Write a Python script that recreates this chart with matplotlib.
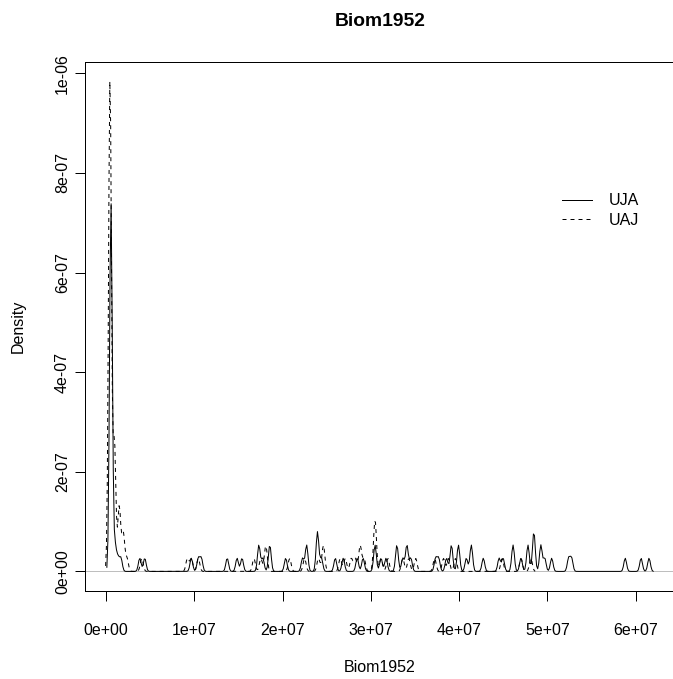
import numpy as np
import matplotlib
matplotlib.use("Agg")
import matplotlib.pyplot as plt
from matplotlib.ticker import FuncFormatter, MultipleLocator

# Biom1952 observations (in millions) and how many share each value
uja_vals = [0.56, 1.01, 1.35, 1.69, 3.82, 4.39, 9.67, 10.46, 10.80, 13.73,
            14.85, 15.41, 17.32, 17.77, 18.56, 20.36, 22.27, 22.73, 23.96, 24.41,
            25.98, 26.88, 28.46, 29.13, 30.48, 31.16, 31.73, 32.96, 33.63, 34.09,
            34.54, 37.35, 37.69, 38.58, 39.14, 39.93, 40.83, 41.39, 42.75, 44.54,
            44.99, 46.12, 47.02, 47.81, 48.48, 49.27, 49.71, 50.50, 52.42, 52.75,
            58.83, 60.63, 61.53]
uja_counts = [28, 2, 1, 1, 1, 1, 1, 1, 1, 1,
              1, 1, 2, 1, 2, 1, 1, 2, 3, 1,
              1, 1, 1, 1, 2, 1, 1, 2, 1, 2,
              1, 1, 1, 1, 2, 2, 1, 2, 1, 1,
              1, 2, 1, 2, 3, 2, 1, 1, 1, 1,
              1, 1, 1]

uaj_vals = [0.45, 0.95, 1.50, 1.95, 2.37, 4.05, 9.22, 9.67, 10.46, 16.76,
            17.54, 18.11, 20.81, 22.50, 24.07, 24.63, 26.54, 27.11, 27.79, 28.24,
            28.80, 29.24, 30.48, 31.16, 31.94, 33.63, 34.31, 35.09, 37.24, 38.24,
            38.81, 39.60, 44.88, 47.02, 48.14]
uaj_counts = [38, 10, 5, 3, 1, 1, 1, 1, 1, 1,
              1, 2, 1, 1, 1, 2, 1, 1, 1, 1,
              2, 1, 4, 1, 1, 1, 1, 1, 1, 1,
              1, 1, 1, 1, 1]

uja_bw = 1.55e5
uaj_bw = 1.65e5


def density(vals, counts, bw, n=512):
    x = np.asarray(vals) * 1e6
    w = np.asarray(counts, dtype=float)
    grid = np.linspace(x.min() - 3 * bw, x.max() + 3 * bw, n)
    z = (grid[:, None] - x[None, :]) / bw
    d = (np.exp(-0.5 * z ** 2) * w).sum(axis=1) / (w.sum() * bw * np.sqrt(2 * np.pi))
    return grid, d


gx1, d1 = density(uja_vals, uja_counts, uja_bw)
gx2, d2 = density(uaj_vals, uaj_counts, uaj_bw)

plt.rcParams['font.family'] = ['Liberation Sans', 'DejaVu Sans']

fig = plt.figure(figsize=(673 / 96, 679 / 96), dpi=96)
ax = fig.add_axes([85 / 673, 1 - 591 / 679, 590 / 673, 529 / 679])

ax.axhline(0, color='#BEBEBE', lw=0.75, zorder=1)
ax.plot(gx1, d1, color='black', lw=0.75, label='UJA', zorder=3)
ax.plot(gx2, d2, color='black', lw=0.75, ls=(0, (4, 4)), label='UAJ', zorder=2)

xlo, xhi = gx1.min(), gx1.max()
ax.set_xlim(xlo - 0.04 * (xhi - xlo), xhi + 0.04 * (xhi - xlo))
ymax = max(d1.max(), d2.max())
ax.set_ylim(-0.04 * ymax, 1.04 * ymax)

sci = FuncFormatter(lambda v, p: f"{v:.0e}")
ax.xaxis.set_major_locator(MultipleLocator(1e7))
ax.yaxis.set_major_locator(MultipleLocator(2e-7))
ax.xaxis.set_major_formatter(sci)
ax.yaxis.set_major_formatter(sci)
ax.tick_params(direction='out', length=7.2, width=0.75, labelsize=12, colors='black')
ax.tick_params(axis='x', pad=17)
ax.tick_params(axis='y', pad=4)
for lbl in ax.get_yticklabels():
    lbl.set_rotation(90)
    lbl.set_va('center')
for s in ax.spines.values():
    s.set_linewidth(0.75)

ax.set_xlabel('Biom1952', fontsize=12)
ax.set_ylabel('Density', fontsize=12)
ax.xaxis.set_label_coords(0.5, (591 - 668) / 529)
ax.xaxis.label.set_va('center')
ax.yaxis.set_label_coords((18 - 85) / 590, 0.5)
ax.yaxis.label.set_va('center')
ax.text((380 - 85) / 590, (591 - 22) / 529, 'Biom1952', transform=ax.transAxes,
        ha='center', va='center', fontsize=14.4, fontweight='bold')

ax.legend(loc='upper left', bbox_to_anchor=(0.8085, 0.752), frameon=False,
          fontsize=12, handlelength=1.9, handletextpad=1.0, labelspacing=0.3,
          borderpad=0, borderaxespad=0)

fig.savefig('out.png', dpi=96)
